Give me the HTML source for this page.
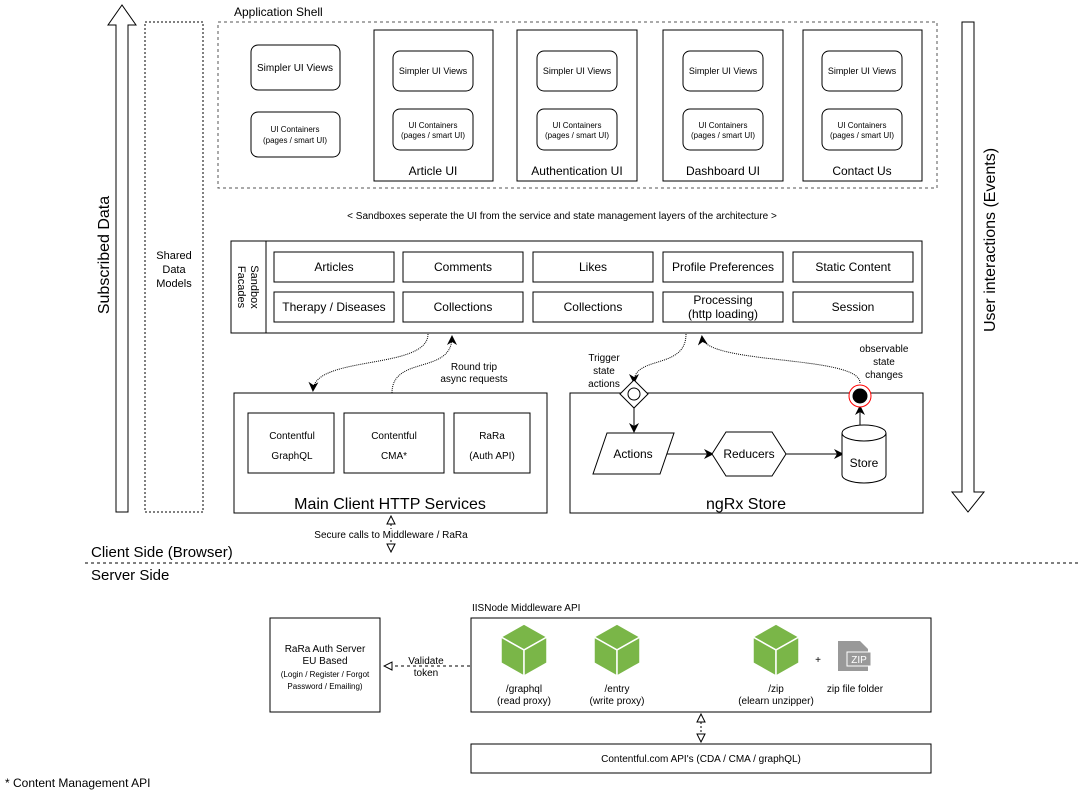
<!DOCTYPE html>
<html><head><meta charset="utf-8"><style>
html,body{margin:0;padding:0;background:#fff}
svg{display:block}
text{font-family:"Liberation Sans",sans-serif;fill:#000}
</style></head><body>
<svg width="1082" height="794" viewBox="0 0 1082 794" xmlns="http://www.w3.org/2000/svg">
<defs>
<marker id="ah" markerWidth="10" markerHeight="10" refX="8" refY="5" orient="auto" markerUnits="userSpaceOnUse"><path d="M0,0 L10,5 L0,10 L3,5 z" fill="#000"/></marker>
<marker id="oh" markerWidth="10" markerHeight="10" refX="9" refY="5" orient="auto-start-reverse" markerUnits="userSpaceOnUse"><path d="M1,1 L9,5 L1,9 z" fill="#fff" stroke="#000"/></marker>
</defs>
<g fill="none" stroke="#000" stroke-width="1">
<path d="M116,512 L116,25 L108,25 L122,5 L136,25 L128,25 L128,512 Z" fill="#fff"/>
<path d="M962,22 L974,22 L974,492 L984,492 L968,512 L952,492 L962,492 Z" fill="#fff"/>
<rect x="145" y="22" width="58" height="490" stroke-dasharray="2,2"/>
<rect x="218" y="22" width="719" height="166" stroke-dasharray="3,3" stroke="#555"/>
<rect x="251" y="45" width="89" height="45" rx="7"/>
<rect x="251" y="112" width="89" height="45" rx="7"/>
<rect x="374" y="30" width="119" height="151"/>
<rect x="517" y="30" width="120" height="151"/>
<rect x="663" y="30" width="120" height="151"/>
<rect x="803" y="30" width="119" height="151"/>
<rect x="393" y="51" width="80" height="40" rx="7"/><rect x="393" y="109" width="80" height="41" rx="7"/>
<rect x="537" y="51" width="80" height="40" rx="7"/><rect x="537" y="109" width="80" height="41" rx="7"/>
<rect x="683" y="51" width="80" height="40" rx="7"/><rect x="683" y="109" width="80" height="41" rx="7"/>
<rect x="822" y="51" width="80" height="40" rx="7"/><rect x="822" y="109" width="80" height="41" rx="7"/>
<rect x="231" y="241" width="691" height="92"/>
<rect x="231" y="241" width="35" height="92"/>
<rect x="274" y="252" width="120" height="30"/><rect x="403" y="252" width="120" height="30"/><rect x="533" y="252" width="120" height="30"/><rect x="663" y="252" width="120" height="30"/><rect x="793" y="252" width="120" height="30"/>
<rect x="274" y="292" width="120" height="30"/><rect x="403" y="292" width="120" height="30"/><rect x="533" y="292" width="120" height="30"/><rect x="663" y="292" width="120" height="30"/><rect x="793" y="292" width="120" height="30"/>
<rect x="234" y="393" width="313" height="120"/>
<rect x="248" y="413" width="86" height="60"/><rect x="344" y="413" width="100" height="60"/><rect x="454" y="413" width="76" height="60"/>
<rect x="570" y="393" width="353" height="120"/>
<path d="M428,334 C428,370 315,355 313,390" stroke-dasharray="1,1" marker-end="url(#ah)"/>
<path d="M392,393 C392,355 452,375 452,337" stroke-dasharray="1,1" marker-end="url(#ah)"/>
<path d="M686,334 C686,370 634,355 634,382" stroke-dasharray="1,1" marker-end="url(#ah)"/>
<path d="M860,383 C860,355 705,365 702,337" stroke-dasharray="1,1" marker-end="url(#ah)"/>
<path d="M634,405 L634,431" marker-end="url(#ah)"/>
<path d="M666,454 L712,454" marker-end="url(#ah)"/>
<path d="M786,454 L842,454" marker-end="url(#ah)"/>
<path d="M860,427 L860,407" marker-end="url(#ah)"/>
<path d="M620,394 L634,380 L648,394 L634,408 Z" fill="#fff"/>
<circle cx="634" cy="394" r="6" fill="#fff"/>
<circle cx="860" cy="396" r="11" stroke="#f00" fill="#fff"/>
<circle cx="860" cy="396" r="7" fill="#000" stroke="#000"/>
<path d="M607,433 L674,433 L660,474 L593,474 Z" fill="#fff"/>
<path d="M712,454 L726,432 L772,432 L786,454 L772,476 L726,476 Z" fill="#fff"/>
<path d="M842,433 L842,475 A22,8 0 0 0 886,475 L886,433" fill="#fff"/>
<ellipse cx="864" cy="433" rx="22" ry="8" fill="#fff"/>
<path d="M391,516 L391,552" stroke-dasharray="2,2" marker-start="url(#oh)" marker-end="url(#oh)"/>
<line x1="85" y1="563" x2="1078" y2="563" stroke-dasharray="3,3"/>
<rect x="270" y="618" width="110" height="94"/>
<rect x="471" y="618" width="460" height="94"/>
<rect x="471" y="744" width="460" height="29"/>
<path d="M470,666 L384,666" stroke-dasharray="3,3" marker-end="url(#oh)"/>
<path d="M701,714 L701,742" stroke-dasharray="2,2" marker-start="url(#oh)" marker-end="url(#oh)"/>
</g>
<g stroke="#fff" stroke-width="1.5">
<g transform="translate(524,650)"><path d="M0,-26 L23,-13 L0,0 L-23,-13Z" fill="#7ab648"/><path d="M-23,-13 L0,0 L0,26 L-23,13Z" fill="#7ab648"/><path d="M23,-13 L0,0 L0,26 L23,13Z" fill="#7ab648"/></g>
<g transform="translate(617,650)"><path d="M0,-26 L23,-13 L0,0 L-23,-13Z" fill="#7ab648"/><path d="M-23,-13 L0,0 L0,26 L-23,13Z" fill="#7ab648"/><path d="M23,-13 L0,0 L0,26 L23,13Z" fill="#7ab648"/></g>
<g transform="translate(776,650)"><path d="M0,-26 L23,-13 L0,0 L-23,-13Z" fill="#7ab648"/><path d="M-23,-13 L0,0 L0,26 L-23,13Z" fill="#7ab648"/><path d="M23,-13 L0,0 L0,26 L23,13Z" fill="#7ab648"/></g>
</g>
<path d="M838,641 L860,641 L868,649 L868,671 L838,671 Z" fill="#999"/>
<rect x="847" y="652" width="24" height="14" fill="#999" stroke="#fff"/>
<text x="859" y="663" font-size="10" text-anchor="middle" style="fill:#fff">ZIP</text>
<g font-size="10" text-anchor="middle">
<text x="295" y="71">Simpler UI Views</text>
<text x="295" y="132" font-size="8">UI Containers</text><text x="295" y="143" font-size="8">(pages / smart UI)</text>
<text x="433" y="74" font-size="9">Simpler UI Views</text><text x="433" y="128" font-size="8">UI Containers</text><text x="433" y="138" font-size="8">(pages / smart UI)</text>
<text x="577" y="74" font-size="9">Simpler UI Views</text><text x="577" y="128" font-size="8">UI Containers</text><text x="577" y="138" font-size="8">(pages / smart UI)</text>
<text x="723" y="74" font-size="9">Simpler UI Views</text><text x="723" y="128" font-size="8">UI Containers</text><text x="723" y="138" font-size="8">(pages / smart UI)</text>
<text x="862" y="74" font-size="9">Simpler UI Views</text><text x="862" y="128" font-size="8">UI Containers</text><text x="862" y="138" font-size="8">(pages / smart UI)</text>
<text x="433" y="175" font-size="12">Article UI</text>
<text x="577" y="175" font-size="12">Authentication UI</text>
<text x="723" y="175" font-size="12">Dashboard UI</text>
<text x="862" y="175" font-size="12">Contact Us</text>
<text x="562" y="219">&lt; Sandboxes seperate the UI from the service and state management layers of the architecture &gt;</text>
<text x="174" y="259" font-size="11">Shared</text><text x="174" y="273" font-size="11">Data</text><text x="174" y="287" font-size="11">Models</text>
<g font-size="12">
<text x="334" y="271">Articles</text><text x="463" y="271">Comments</text><text x="593" y="271">Likes</text><text x="723" y="271">Profile Preferences</text><text x="853" y="271">Static Content</text>
<text x="334" y="311">Therapy / Diseases</text><text x="463" y="311">Collections</text><text x="593" y="311">Collections</text><text x="723" y="304">Processing</text><text x="723" y="318">(http loading)</text><text x="853" y="311">Session</text>
</g>
<text transform="translate(251,287) rotate(90)" font-size="11">Sandbox</text>
<text transform="translate(238,287) rotate(90)" font-size="11">Facades</text>
<text x="474" y="370">Round trip</text><text x="474" y="382">async requests</text>
<text x="604" y="361">Trigger</text><text x="604" y="374">state</text><text x="604" y="387">actions</text>
<text x="884" y="352">observable</text><text x="884" y="365">state</text><text x="884" y="378">changes</text>
<text x="292" y="439">Contentful</text><text x="292" y="459">GraphQL</text>
<text x="394" y="439">Contentful</text><text x="394" y="459">CMA*</text>
<text x="492" y="439">RaRa</text><text x="492" y="459">(Auth API)</text>
<text x="390" y="509" font-size="16">Main Client HTTP Services</text>
<text x="746" y="509" font-size="16">ngRx Store</text>
<text x="633" y="458" font-size="12">Actions</text>
<text x="749" y="458" font-size="12">Reducers</text>
<text x="864" y="467" font-size="12">Store</text>
<rect x="312" y="529" width="160" height="11" fill="#fff"/>
<text x="391" y="538">Secure calls to Middleware  / RaRa</text>
<text x="325" y="652">RaRa Auth Server</text><text x="325" y="664">EU Based</text>
<text x="325" y="677" font-size="8">(Login / Register / Forgot</text><text x="325" y="689" font-size="8">Password / Emailing)</text>
<text x="426" y="664">Validate</text><text x="426" y="676">token</text>
<text x="524" y="692">/graphql</text><text x="524" y="704">(read proxy)</text>
<text x="617" y="692">/entry</text><text x="617" y="704">(write proxy)</text>
<text x="776" y="692">/zip</text><text x="776" y="704">(elearn unzipper)</text>
<text x="855" y="692">zip file folder</text>
<text x="818" y="663">+</text>
<text x="701" y="762">Contentful.com API's (CDA / CMA / graphQL)</text>
</g>
<text x="234" y="16" font-size="12">Application Shell</text>
<text x="472" y="611" font-size="10">IISNode Middleware API</text>
<text x="91" y="557" font-size="15">Client Side (Browser)</text>
<text x="91" y="580" font-size="15">Server Side</text>
<text x="5" y="787" font-size="12">* Content Management API</text>
<text transform="translate(109,255) rotate(-90)" font-size="16" text-anchor="middle">Subscribed Data</text>
<text transform="translate(995,240) rotate(-90)" font-size="16" text-anchor="middle">User interactions (Events)</text>
</svg>
</body></html>
